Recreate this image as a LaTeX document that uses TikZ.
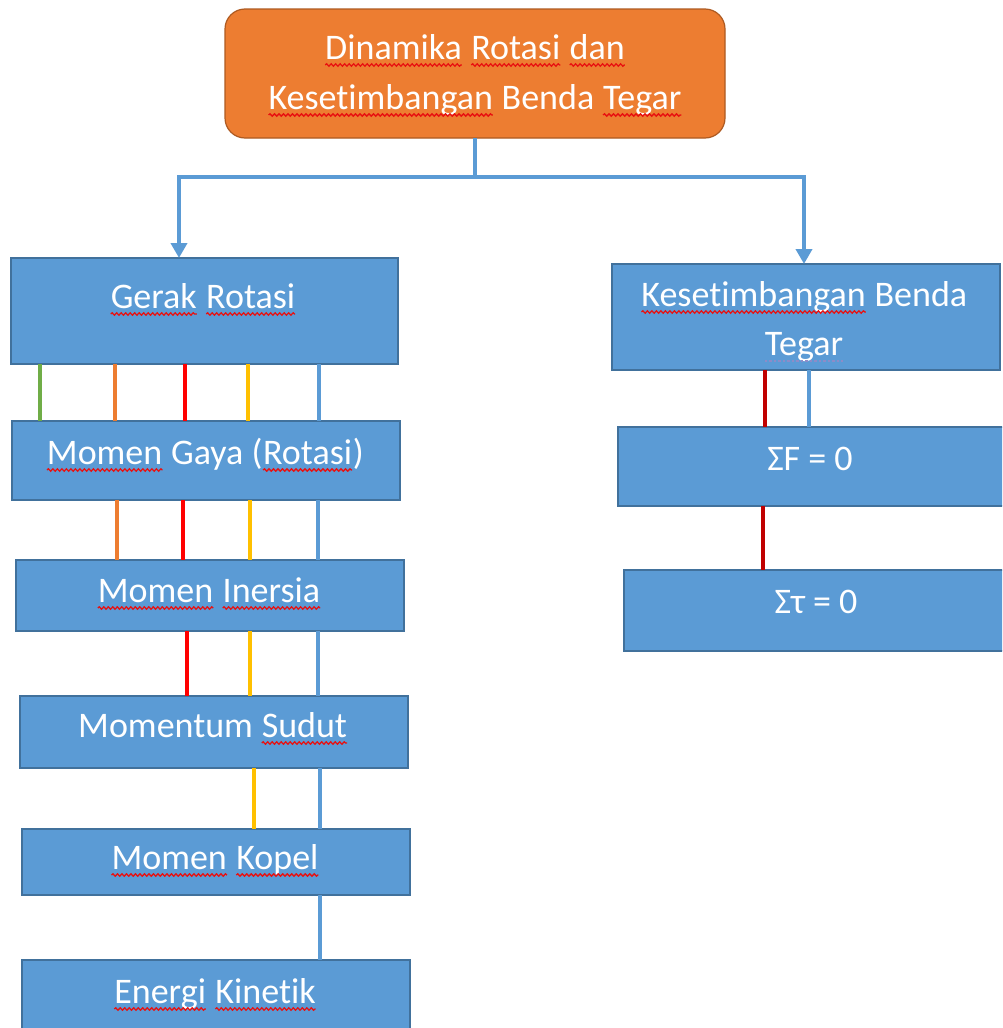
\documentclass[tikz,border=0pt]{standalone}
\usepackage{fontspec}
\setmainfont{Carlito}[Ligatures={NoCommon,NoContextual,NoRequired},Contextuals={NoAlternate}]
\usetikzlibrary{arrows.meta,decorations.pathmorphing}
\definecolor{cblue}{HTML}{5B9BD5}
\definecolor{cblueborder}{HTML}{41719C}
\definecolor{corange}{HTML}{ED7D31}
\definecolor{corangeborder}{HTML}{AE5A21}
\definecolor{cgreen}{HTML}{70AD47}
\definecolor{cred}{HTML}{FF0000}
\definecolor{cyellow}{HTML}{FFC000}
\definecolor{cdarkred}{HTML}{C00000}
\definecolor{cspell}{HTML}{E81010}
\definecolor{cgram}{HTML}{8C8CC8}
\tikzset{
  spellline/.style={draw=cspell, line width=1.3pt, decorate,
    decoration={snake, amplitude=1.2pt, segment length=4.5pt}},
  gramline/.style={draw=cgram, line width=1.2pt, dash pattern=on 2.5pt off 2pt},
}
\newcommand\sqw[1]{\tikz[baseline=(sqw.base)]{\node[anchor=base west,inner sep=0pt,outer sep=0pt,draw=none,fill=none,minimum width=0pt,minimum height=0pt] (sqw) at (0,0) {#1};\draw[spellline] ([yshift=-6pt]sqw.base west) -- ([yshift=-6pt]sqw.base east);}}
\newcommand\gqw[1]{\tikz[baseline=(sqw.base)]{\node[anchor=base west,inner sep=0pt,outer sep=0pt,draw=none,fill=none,minimum width=0pt,minimum height=0pt] (sqw) at (0,0) {#1};\draw[gramline] ([yshift=-6pt]sqw.base west) -- ([yshift=-6pt]sqw.base east);}}
\begin{document}
\begin{tikzpicture}[x=1pt,y=1pt,
  box/.style={draw=cblueborder, line width=1.2pt, fill=cblue, inner sep=0pt, outer sep=0pt},
  topbox/.style={draw=corangeborder, line width=1.2pt, fill=corange, rounded corners=20pt, inner sep=0pt, outer sep=0pt},
  lbl/.style={text=white, font=\fontsize{36}{44}\selectfont, inner sep=0pt, anchor=base},
  conn/.style={draw=cblue, line width=4pt},
  arr/.style={conn, -{Triangle[width=16pt,length=15pt]}},
  link/.style={line width=4.5pt},
  blink/.style={draw=cblue, line width=4pt}
]
\useasboundingbox (0,0) rectangle (1002,-1028);
\fill[white] (0,0) rectangle (1002,-1028);
\clip (0,0) rectangle (1002,-1028);

% boxes
\node[topbox, minimum width=500pt, minimum height=129pt] (top) at (475,-73.5) {};
\node[box, minimum width=387pt, minimum height=106pt] (gerak) at (204.5,-311) {};
\node[box, minimum width=388pt, minimum height=79pt] (gaya) at (206,-460.5) {};
\node[box, minimum width=388pt, minimum height=71pt] (inersia) at (210,-595.5) {};
\node[box, minimum width=388pt, minimum height=72pt] (sudut) at (214,-732) {};
\node[box, minimum width=388pt, minimum height=66pt] (kopel) at (216,-862) {};
\node[box, minimum width=388pt, minimum height=80pt] (energi) at (216,-1000) {};
\node[box, minimum width=388pt, minimum height=106pt] (kes) at (806,-317) {};
\node[box, minimum width=388pt, minimum height=79pt] (sumf) at (812,-466.5) {};
\node[box, minimum width=388pt, minimum height=81pt] (sumt) at (818,-610.5) {};

% labels
\node[lbl] (topA) at (475,-59) {\sqw{Dinamika} \sqw{Rotasi} \sqw{dan}};
\node[lbl] (topB) at (475,-109) {\sqw{Kesetimbangan} Benda \sqw{Tegar}};
\node[lbl] (gerakL) at (203,-308) {\sqw{Gerak} \sqw{Rotasi}};
\node[lbl] (gayaL) at (205,-464) {\sqw{Momen} Gaya (\sqw{Rotasi})};
\node[lbl] (inersiaL) at (209,-602) {\sqw{Momen} \sqw{Inersia}};
\node[lbl] (sudutL) at (213,-737) {Momentum \sqw{Sudut}};
\node[lbl] (kopelL) at (215,-869) {\sqw{Momen} \sqw{Kopel}};
\node[lbl] (energiL) at (215,-1003) {\sqw{Energi} \sqw{Kinetik}};
\node[lbl] (kesA) at (804,-306) {\sqw{Kesetimbangan} Benda};
\node[lbl] (kesB) at (804,-355) {\gqw{Tegar}};
\node[lbl] (sumfL) at (810,-470) {ΣF = 0};
\node[lbl] (sumtL) at (816,-613) {Στ = 0};

% top connector
\coordinate (jm) at (475,-177);
\coordinate (jl) at (179,-177);
\coordinate (jr) at (804,-177);
\draw[conn] (top.south -| jm) -- (jm);
\draw[arr] (jm) -- (jl) -- (jl |- gerak.north);
\draw[arr] (jm) -- (jr) -- (jr |- kes.north);

% Gerak -> Momen Gaya
\draw[link, draw=cgreen] (40,0 |- gerak.south) -- (40,0 |- gaya.north);
\draw[link, draw=corange] (115,0 |- gerak.south) -- (115,0 |- gaya.north);
\draw[link, draw=cred] (185,0 |- gerak.south) -- (185,0 |- gaya.north);
\draw[link, draw=cyellow] (248,0 |- gerak.south) -- (248,0 |- gaya.north);
\draw[blink] (319,0 |- gerak.south) -- (319,0 |- gaya.north);
% Gaya -> Inersia
\draw[link, draw=corange] (117,0 |- gaya.south) -- (117,0 |- inersia.north);
\draw[link, draw=cred] (183,0 |- gaya.south) -- (183,0 |- inersia.north);
\draw[link, draw=cyellow] (250,0 |- gaya.south) -- (250,0 |- inersia.north);
\draw[blink] (318,0 |- gaya.south) -- (318,0 |- inersia.north);
% Inersia -> Sudut
\draw[link, draw=cred] (187,0 |- inersia.south) -- (187,0 |- sudut.north);
\draw[link, draw=cyellow] (250,0 |- inersia.south) -- (250,0 |- sudut.north);
\draw[blink] (318,0 |- inersia.south) -- (318,0 |- sudut.north);
% Sudut -> Kopel
\draw[link, draw=cyellow] (254,0 |- sudut.south) -- (254,0 |- kopel.north);
\draw[blink] (320,0 |- sudut.south) -- (320,0 |- kopel.north);
% Kopel -> Energi
\draw[blink] (320,0 |- kopel.south) -- (320,0 |- energi.north);

% right side
\draw[link, draw=cdarkred] (765,0 |- kes.south) -- (765,0 |- sumf.north);
\draw[blink] (809,0 |- kes.south) -- (809,0 |- sumf.north);
\draw[link, draw=cdarkred] (763,0 |- sumf.south) -- (763,0 |- sumt.north);
\end{tikzpicture}
\end{document}
